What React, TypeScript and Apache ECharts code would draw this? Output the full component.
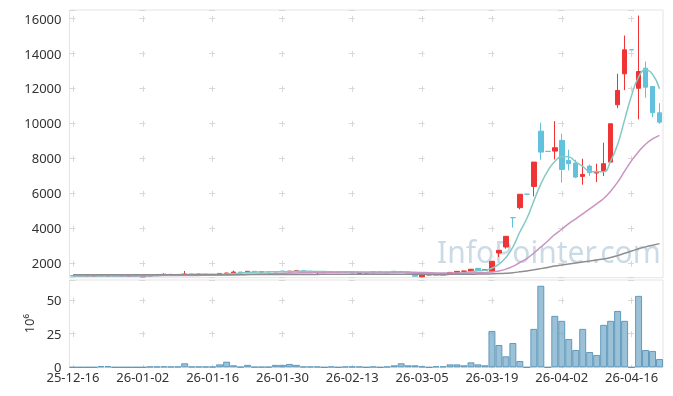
import React, { useEffect, useRef } from 'react';
import * as echarts from 'echarts';

const dates = [
  '25-12-16','25-12-17','25-12-18','25-12-19','25-12-22','25-12-23','25-12-24','25-12-26','25-12-29','25-12-30',
  '26-01-02','26-01-05','26-01-06','26-01-07','26-01-08','26-01-09','26-01-12','26-01-13','26-01-14','26-01-15',
  '26-01-16','26-01-19','26-01-20','26-01-21','26-01-22','26-01-23','26-01-26','26-01-27','26-01-28','26-01-29',
  '26-01-30','26-02-02','26-02-03','26-02-04','26-02-05','26-02-06','26-02-09','26-02-10','26-02-11','26-02-12',
  '26-02-13','26-02-19','26-02-20','26-02-23','26-02-24','26-02-25','26-02-26','26-02-27','26-03-03','26-03-04',
  '26-03-05','26-03-06','26-03-09','26-03-10','26-03-11','26-03-12','26-03-13','26-03-16','26-03-17','26-03-18',
  '26-03-19','26-03-20','26-03-23','26-03-24','26-03-25','26-03-26','26-03-27','26-03-30','26-03-31','26-04-01',
  '26-04-02','26-04-03','26-04-06','26-04-07','26-04-08','26-04-09','26-04-10','26-04-13','26-04-14','26-04-15',
  '26-04-16','26-04-17','26-04-20','26-04-21','26-04-22'
];

const opens = [
  1300,1285,1270,1260,1290,1275,1290,1275,1250,1280,
  1230,1270,1300,1340,1370,1340,1350,1390,1370,1385,
  1370,1330,1420,1440,1500,1470,1540,1500,1520,1510,
  1560,1500,1550,1580,1540,1460,1470,1520,1510,1500,
  1500,1400,1440,1460,1500,1490,1540,1520,1500,1370,
  1230,1330,1370,1320,1370,1480,1540,1540,1710,1600,
  1543,2589,2931,4612,5183,5955,6400,9560,8405,8417,
  9029,7886,7731,6971,7560,7160,7274,7789,11069,12840,
  14215,12011,13160,12114,10611
];
const closes = [
  1270,1265,1280,1290,1270,1285,1265,1270,1280,1260,
  1270,1300,1360,1370,1340,1360,1390,1370,1380,1360,
  1340,1420,1440,1500,1470,1540,1500,1520,1510,1530,
  1530,1550,1580,1530,1500,1490,1520,1510,1500,1490,
  1440,1440,1450,1500,1490,1450,1510,1470,1440,1260,
  1330,1350,1310,1370,1480,1540,1560,1660,1600,1640,
  2114,2743,3543,4611,5950,5950,7789,8360,8400,8611,
  7371,7697,6931,7086,7183,7257,7697,9983,11886,14211,
  14211,12971,12074,10611,10074
];
const lows = [
  1255,1250,1260,1250,1260,1265,1255,1260,1240,1245,
  1200,1265,1295,1330,1330,1330,1345,1360,1360,1350,
  1330,1325,1410,1435,1460,1465,1490,1495,1500,1505,
  1520,1495,1545,1520,1490,1370,1465,1500,1490,1480,
  1430,1390,1430,1450,1480,1440,1500,1460,1430,1240,
  1200,1310,1300,1310,1360,1470,1530,1530,1590,1590,
  1530,2360,2840,4040,5086,5950,5829,7926,8400,7943,
  6611,7314,6874,6497,6989,6646,6989,7789,10874,11909,
  14211,10229,11469,10360,9983
];
const highs = [
  1310,1295,1290,1300,1300,1295,1295,1285,1290,1285,
  1275,1310,1370,1430,1380,1370,1560,1400,1395,1390,
  1380,1430,1460,1580,1510,1560,1550,1530,1530,1545,
  1570,1560,1620,1590,1550,1500,1530,1530,1520,1510,
  1510,1450,1460,1510,1510,1500,1560,1530,1510,1380,
  1350,1380,1380,1380,1490,1550,1570,1670,1720,1660,
  2114,2743,3543,4612,5950,5955,7789,10040,8405,10131,
  9411,8497,7926,7983,7650,7697,8897,9983,12840,15029,
  14215,16171,13543,12114,11160
];

// volume, in millions
const volumes = [
  0,0,0,0,0.8,0.8,0,0,0,0,
  0,0.5,0.5,0.6,0.5,0.5,3.0,0.5,0.5,0.5,
  0.5,2.2,4.2,1.5,0.3,1.8,0.3,0.3,0.3,1.8,
  1.8,2.5,1.8,0.5,0.5,0.5,0,0.5,0,0.5,
  0.5,0.5,0,0.5,0,0.5,1.5,3.0,1.5,1.5,
  0.7,0,0.7,0.7,2.2,2.2,1.5,3.7,2.2,1.5,
  27.1,16.6,8.2,18.1,4.7,0,28.6,60.7,0,38.3,
  34.6,21.1,12.9,28.6,11.4,9.2,31.6,34.6,42.0,34.6,
  0,53.2,12.9,12.2,6.2
];

const ma5 = [
  1280,1278,1277,1278,1275,1278,1278,1276,1274,1272,
  1269,1276,1294,1312,1328,1346,1364,1366,1368,1372,
  1368,1374,1388,1412,1434,1474,1490,1506,1508,1520,
  1518,1528,1540,1544,1538,1530,1524,1510,1504,1502,
  1492,1476,1464,1464,1464,1466,1480,1484,1472,1426,
  1402,1370,1338,1324,1368,1410,1452,1522,1568,1600,
  1715,1951,2328,2930,3792,4559,5569,6532,7290,7822,
  8106,8088,7802,7539,7254,7231,7231,7841,8801,10207,
  11598,12652,13071,12816,11988
];
const ma20 = [
  1300,1299,1298,1297,1296,1295,1295,1294,1294,1293,
  1293,1294,1296,1298,1300,1302,1305,1307,1309,1312,
  1315,1323,1331,1342,1352,1364,1376,1389,1400,1414,
  1427,1439,1450,1458,1466,1473,1479,1486,1492,1499,
  1504,1505,1505,1505,1506,1502,1502,1500,1496,1483,
  1473,1463,1449,1441,1440,1443,1445,1452,1457,1465,
  1498,1563,1668,1824,2047,2272,2586,2930,3278,3646,
  3948,4265,4546,4832,5117,5403,5710,6126,6640,7269,
  7874,8385,8811,9111,9318
];
const maLong = [
  1345,1345,1344,1344,1343,1343,1342,1342,1341,1341,
  1340,1340,1341,1341,1342,1342,1343,1344,1345,1346,
  1347,1348,1349,1350,1351,1352,1353,1355,1356,1358,
  1359,1360,1362,1363,1364,1366,1367,1368,1369,1370,
  1371,1372,1372,1373,1374,1374,1375,1376,1376,1376,
  1376,1376,1376,1377,1377,1378,1379,1380,1381,1383,
  1395,1410,1432,1465,1510,1560,1625,1695,1765,1840,
  1905,1965,2020,2075,2130,2190,2250,2330,2440,2570,
  2700,2830,2940,3035,3126
];

const FONT = '"Noto Sans", "DejaVu Sans", sans-serif';
const GRID_LINE = '#d8d8d8';

export default function App() {
  const ref = useRef<HTMLDivElement>(null);
  useEffect(() => {
    if (!ref.current) return;
    const chart = echarts.init(ref.current, null, { renderer: 'svg' });
    const candleData = dates.map((_, i) => [opens[i], closes[i], lows[i], highs[i]]);
    chart.setOption({
      animation: false,
      textStyle: { fontFamily: FONT },
      grid: [
        { left: 69.5, right: 10, top: 10, height: 267.7, show: true, borderColor: '#e4e4e4', borderWidth: 1 },
        { left: 69.5, right: 10, top: 280, height: 87.3, show: true, borderColor: '#e4e4e4', borderWidth: 1 },
      ],
      graphic: [
        {
          type: 'text',
          left: 437,
          top: 236,
          z: 0,
          style: {
            text: 'InfoPointer.com',
            font: '30px "Noto Sans"',
            fill: 'rgba(140,175,200,0.45)',
          },
        },
      ],
      xAxis: [
        {
          type: 'category',
          gridIndex: 0,
          data: dates,
          boundaryGap: true,
          axisLine: { show: false },
          axisTick: { show: false },
          axisLabel: { show: false, interval: 9 },
          splitLine: {
            show: true,
            interval: 9,
            alignWithLabel: true,
            lineStyle: { color: GRID_LINE, width: 1, type: [6, 28.96], dashOffset: 29.36 },
          },
        },
        {
          type: 'category',
          gridIndex: 1,
          data: dates,
          boundaryGap: true,
          axisLine: { show: false },
          axisTick: { show: false },
          axisLabel: { interval: 9, color: '#333', fontSize: 13, margin: 5, lineHeight: 10, fontFamily: FONT },
          splitLine: {
            show: true,
            interval: 9,
            alignWithLabel: true,
            lineStyle: { color: GRID_LINE, width: 1, type: [6, 27.58], dashOffset: 16.48 },
          },
        },
      ],
      yAxis: [
        {
          type: 'value',
          gridIndex: 0,
          min: 1176,
          max: 16490,
          splitNumber: 8,
          axisLine: { show: false },
          axisTick: { show: false },
          axisLabel: {
            color: '#333',
            fontSize: 13,
            showMinLabel: false,
            showMaxLabel: false,
            fontFamily: FONT,
            formatter: (v: number) => String(v),
          },
          splitLine: { show: true, lineStyle: { color: GRID_LINE, width: 1, type: [6, 63.82], dashOffset: 0 } },
        },
        {
          type: 'value',
          gridIndex: 1,
          min: 0,
          max: 65,
          interval: 25,
          name: '10⁶',
          nameLocation: 'middle',
          nameRotate: 90,
          nameGap: 30,
          nameTextStyle: { color: '#333', fontSize: 13, fontFamily: FONT },
          axisLine: { show: false },
          axisTick: { show: false },
          axisLabel: {
            color: '#333',
            fontSize: 13,
            lineHeight: 10,
            showMaxLabel: false,
            fontFamily: FONT,
            formatter: (v: number) => String(v),
          },
          splitLine: { show: true, lineStyle: { color: GRID_LINE, width: 1, type: [6, 63.82], dashOffset: 0 } },
        },
      ],
      series: [
        {
          type: 'candlestick',
          xAxisIndex: 0,
          yAxisIndex: 0,
          data: candleData,
          barWidth: 5,
          itemStyle: {
            color: '#ee3434',
            color0: '#62c1dc',
            borderColor: '#ee3434',
            borderColor0: '#62c1dc',
            borderWidth: 1,
          },
          z: 2,
        },
        {
          type: 'line',
          xAxisIndex: 0,
          yAxisIndex: 0,
          data: ma5,
          smooth: true,
          showSymbol: false,
          lineStyle: { color: '#84c9c4', width: 1.5 },
          z: 3,
        },
        {
          type: 'line',
          xAxisIndex: 0,
          yAxisIndex: 0,
          data: ma20,
          smooth: true,
          showSymbol: false,
          lineStyle: { color: '#c894c4', width: 1.5 },
          z: 3,
        },
        {
          type: 'line',
          xAxisIndex: 0,
          yAxisIndex: 0,
          data: maLong,
          smooth: true,
          showSymbol: false,
          lineStyle: { color: '#8e8e8e', width: 1.5 },
          z: 3,
        },
        {
          type: 'bar',
          xAxisIndex: 1,
          yAxisIndex: 1,
          data: volumes,
          barCategoryGap: '0%',
          itemStyle: {
            color: 'rgba(122,172,200,0.75)',
            borderColor: 'rgba(80,142,182,0.85)',
            borderWidth: 1,
          },
        },
      ],
    });
    return () => chart.dispose();
  }, []);
  return (
    <div
      ref={ref}
      style={{ position: 'fixed', left: 0, top: 0, width: 673, height: 396 }}
    />
  );
}
